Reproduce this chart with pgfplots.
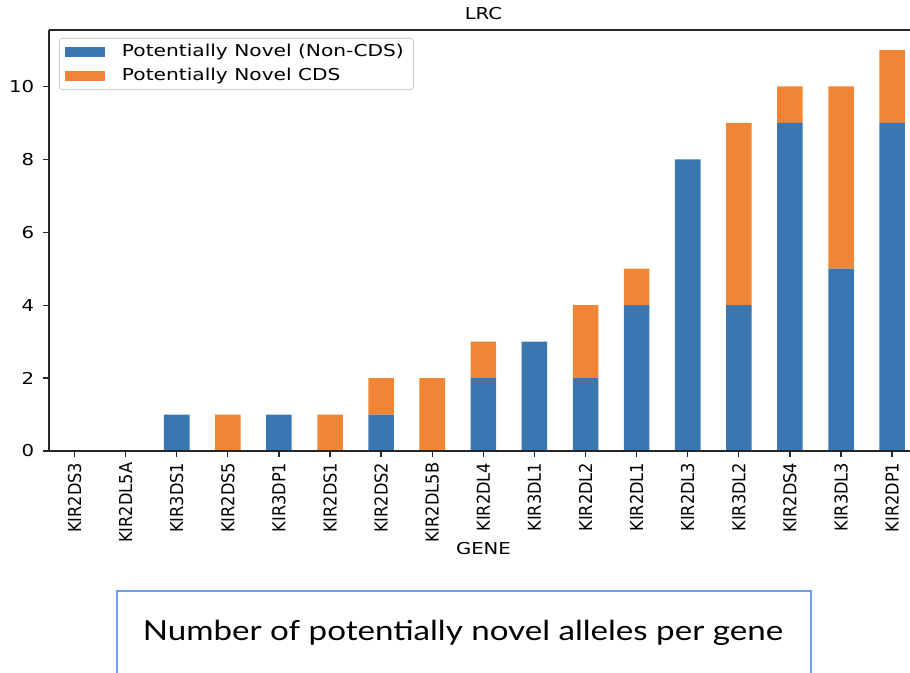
\documentclass[border=0pt]{standalone}
\usepackage{fontspec}
\setmainfont[FakeStretch=1.2]{DejaVu Sans}
\newfontfamily\rotfont[FakeStretch=0.91]{DejaVu Sans}
\newfontfamily\legfont[FakeStretch=1.23]{DejaVu Sans}
\newfontfamily\capfont[FakeStretch=1.2]{Lato}
\usepackage{pgfplots}
\usepackage{pgfplotstable}
\pgfplotsset{compat=1.18}
\definecolor{mblue}{RGB}{58,118,175}
\definecolor{morange}{RGB}{239,134,54}
\definecolor{boxblue}{RGB}{109,158,235}

\pgfplotstableread{
idx noncds cds
0 0 0
1 0 0
2 1 0
3 0 1
4 1 0
5 0 1
6 1 1
7 0 2
8 2 1
9 3 0
10 2 2
11 4 1
12 8 0
13 4 5
14 9 1
15 5 5
16 9 2
}\data

\begin{document}
\fontsize{8.2}{9.8}\selectfont
\begin{tikzpicture}[font=\fontsize{8.2}{9.8}\selectfont]
\useasboundingbox (-24.5pt,-111pt) rectangle (430.5pt,225.5pt);
\begin{axis}[
  scale only axis, width=430.5pt, height=210.5pt,
  xmin=-0.5, xmax=16.35, ymin=0, ymax=11.55,
  ybar stacked, bar width=0.5,
  axis on top,
  axis x line*=box, axis y line*=left,
  axis line style={-, line width=0.65pt, black!85},
  tick align=outside, major tick length=3pt,
  tick style={black!85, line width=0.65pt},
  xtick pos=left, ytick pos=left,
  xtick={0,...,16},
  xticklabels={KIR2DS3,KIR2DL5A,KIR3DS1,KIR2DS5,KIR3DP1,KIR2DS1,KIR2DS2,KIR2DL5B,KIR2DL4,KIR3DL1,KIR2DL2,KIR2DL1,KIR2DL3,KIR3DL2,KIR2DS4,KIR3DL3,KIR2DP1},
  xticklabel style={rotate=90, anchor=east, font=\rotfont\fontsize{8.9}{10}\selectfont},
  ytick={0,2,4,6,8,10},
  yticklabel style={/pgf/number format/assume math mode=true, xshift=-1.5pt},
  title={LRC},
  title style={at={(0.5046,1)}, anchor=south, inner sep=0pt, yshift=-1pt},
  xlabel={GENE},
  xlabel style={at={(0.5046,-0.247)}, anchor=base, inner sep=0pt},
  legend style={at={(0.0116,0.981)}, anchor=north west, draw=black!20,
    rounded corners=1.5pt, fill=white, fill opacity=0.8, text opacity=1,
    inner xsep=3pt, inner ysep=1pt, row sep=0pt, font=\legfont\fontsize{8.2}{9.8}\selectfont,
    nodes={inner sep=1.8pt, text height=6.3pt, text depth=1.9pt},
    /tikz/every odd column/.append style={column sep=6.5pt}},
  legend cell align=left,
  legend image code/.code={\fill[#1,draw=none,sharp corners,fill opacity=1] (0pt,-2.5pt) rectangle (20pt,2.5pt);},
]
\addplot[fill=mblue, draw=none] table[x=idx,y=noncds]{\data};
\addlegendentry{Potentially Novel (Non-CDS)}
\addplot[fill=morange, draw=none] table[x=idx,y=cds]{\data};
\addlegendentry{Potentially Novel CDS}
\end{axis}
\draw[boxblue, line width=0.75pt] (34pt,-113pt) -- (34pt,-70pt) -- (381pt,-70pt) -- (381pt,-113pt);
\node[font=\capfont\fontsize{13.8}{16}\selectfont, anchor=base, inner sep=0pt] at (207pt,-95pt) {Number of potentially novel alleles per gene};
\end{tikzpicture}
\end{document}
